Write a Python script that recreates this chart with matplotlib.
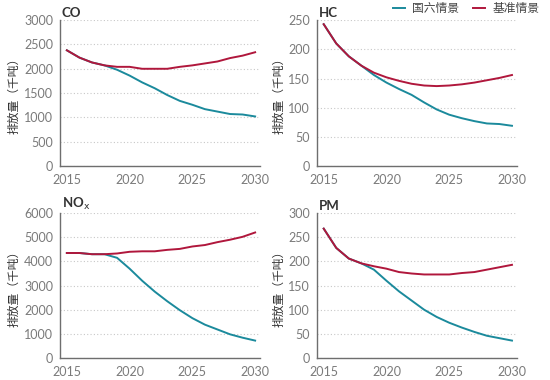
import matplotlib
matplotlib.use("Agg")
import matplotlib.pyplot as plt
from matplotlib.ticker import MultipleLocator

plt.rcParams['font.family'] = ['Lato', 'Noto Sans CJK SC', 'DejaVu Sans']

years = list(range(2015, 2031))

# 基准情景 (red) and 国六情景 (teal), thousand tonnes
co_base = [2380, 2230, 2130, 2070, 2040, 2040, 2000, 2000, 2000, 2040, 2070, 2110, 2150, 2220, 2270, 2340]
co_c6 = [2380, 2230, 2130, 2070, 1980, 1860, 1720, 1600, 1460, 1340, 1260, 1170, 1120, 1070, 1060, 1020]
hc_base = [243, 210, 188, 172, 160, 152, 146, 141, 138, 137, 138, 140, 143, 147, 151, 156]
hc_c6 = [243, 210, 188, 172, 156, 143, 132, 122, 109, 97, 88, 82, 77, 73, 72, 69]
nox_base = [4350, 4350, 4300, 4300, 4330, 4400, 4420, 4420, 4480, 4520, 4620, 4680, 4800, 4900, 5020, 5200]
nox_c6 = [4350, 4350, 4300, 4300, 4150, 3700, 3200, 2750, 2350, 1980, 1650, 1380, 1180, 980, 840, 720]
pm_base = [268, 228, 206, 196, 190, 185, 178, 175, 173, 173, 173, 176, 178, 183, 188, 193]
pm_c6 = [268, 228, 206, 196, 183, 160, 138, 119, 100, 85, 73, 63, 54, 46, 41, 36]

panels = [
    ("CO", co_c6, co_base, 3000, 500),
    ("HC", hc_c6, hc_base, 250, 50),
    ("NO$_\\mathrm{x}$", nox_c6, nox_base, 6000, 1000),
    ("PM", pm_c6, pm_base, 300, 50),
]

teal = "#1b8a9c"
red = "#b0173c"
gray = "#7a7a7a"

fig = plt.figure(figsize=(5.5, 3.8), dpi=100)
boxes = [
    [0.109, 0.563, 0.364, 0.384],
    [0.576, 0.563, 0.364, 0.384],
    [0.109, 0.058, 0.364, 0.381],
    [0.576, 0.058, 0.364, 0.381],
]

for box, (name, c6, base, ymax, step) in zip(boxes, panels):
    ax = fig.add_axes(box)
    l1, = ax.plot(years, c6, color=teal, lw=1.4, label="国六情景")
    l2, = ax.plot(years, base, color=red, lw=1.4, label="基准情景")
    ax.set_xlim(2014.45, 2030.4)
    ax.set_ylim(0, ymax)
    ax.set_xticks([2015, 2020, 2025, 2030])
    ax.yaxis.set_major_locator(MultipleLocator(step))
    ax.grid(axis="y", linestyle=(0, (1, 2)), color="#c8c8c8", lw=0.8)
    ax.set_axisbelow(True)
    for s in ["top", "right"]:
        ax.spines[s].set_visible(False)
    for s in ["left", "bottom"]:
        ax.spines[s].set_color("#6e6e6e")
        ax.spines[s].set_linewidth(1.0)
    ax.tick_params(length=0, labelsize=9, colors=gray)
    ax.tick_params(axis="x", pad=6)
    ax.tick_params(axis="y", pad=5)
    ax.set_ylabel("排放量（千吨）", fontsize=8.5, color="#333333", labelpad=3)
    ax.text(0.01, 1.01, name, transform=ax.transAxes, fontsize=9.5,
            fontweight="bold", color="#333333", ha="left", va="bottom")

fig.legend([l1, l2], ["国六情景", "基准情景"], loc="upper right",
           bbox_to_anchor=(1.0, 1.02), ncol=2, frameon=False, fontsize=8.5,
           handlelength=1.0, columnspacing=1.2, handletextpad=0.6,
           labelcolor="#444444")

fig.savefig("out.png", dpi=100)
